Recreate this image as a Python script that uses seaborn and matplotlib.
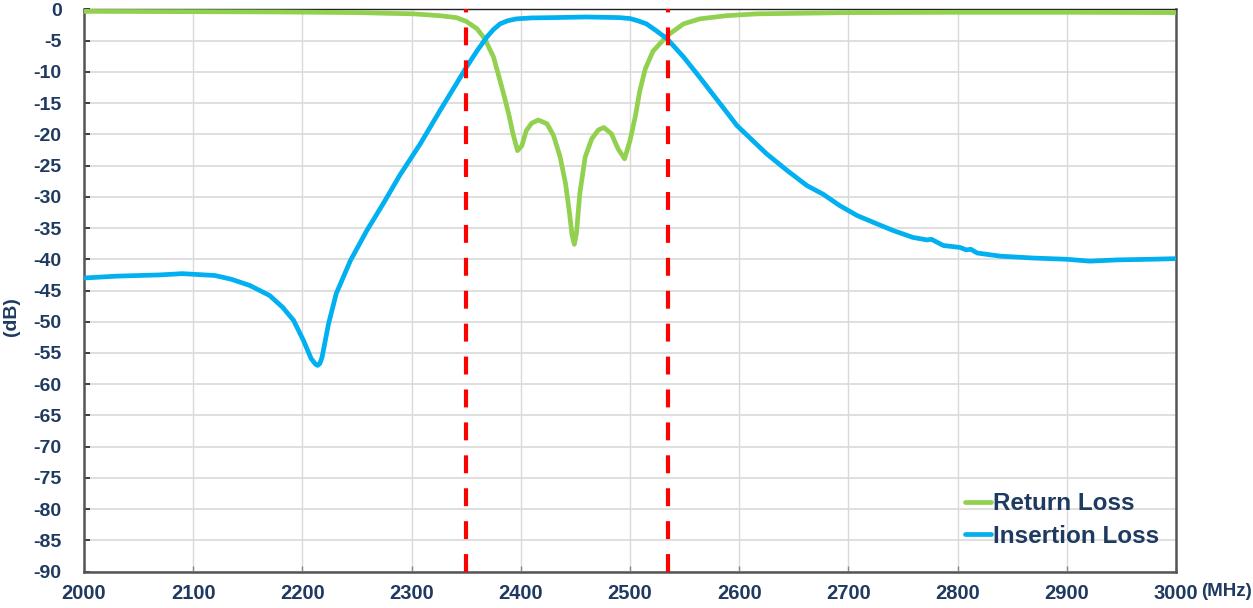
import matplotlib
matplotlib.use("Agg")
import matplotlib.pyplot as plt
import seaborn as sns
import pandas as pd

# Insertion loss (blue)
il_freq = [2000, 2010, 2030, 2050, 2070, 2090, 2100, 2120, 2135, 2152, 2170, 2182, 2192, 2201, 2208,
           2212, 2214, 2216, 2218, 2224, 2231, 2244, 2259, 2274, 2289, 2308, 2326, 2341, 2350, 2360,
           2369, 2375, 2381, 2388, 2396, 2410, 2430, 2460, 2490, 2500, 2507, 2515, 2524, 2534, 2549,
           2564, 2579, 2598, 2625, 2644, 2662, 2677, 2692, 2708, 2723, 2741, 2759, 2772, 2776, 2787,
           2802, 2808, 2812, 2818, 2839, 2869, 2900, 2921, 2946, 2976, 3000]
il_db = [-43.0, -42.9, -42.7, -42.6, -42.5, -42.3, -42.4, -42.6, -43.2, -44.2, -45.8, -47.7, -49.8, -53.0, -55.9,
         -56.8, -57.0, -56.7, -55.7, -50.3, -45.5, -40.2, -35.4, -31.1, -26.6, -21.5, -16.2, -11.9, -9.3, -6.6,
         -4.4, -3.2, -2.3, -1.8, -1.5, -1.35, -1.3, -1.2, -1.3, -1.45, -1.8, -2.3, -3.4, -4.7, -7.6,
         -10.9, -14.3, -18.6, -23.1, -25.8, -28.2, -29.6, -31.4, -33.0, -34.1, -35.4, -36.5, -36.9, -36.8, -37.8,
         -38.1, -38.5, -38.4, -39.0, -39.5, -39.8, -40.0, -40.3, -40.1, -40.0, -39.9]

# Return loss (green)
rl_freq = [2000, 2100, 2180, 2250, 2302, 2326, 2341, 2350, 2360, 2367, 2375, 2381, 2385, 2389, 2393,
           2397, 2401, 2405, 2410, 2416, 2424, 2430, 2436, 2441, 2444, 2447, 2449, 2451, 2454, 2459,
           2465, 2471, 2476, 2483, 2489, 2495, 2500, 2505, 2509, 2514, 2521, 2534, 2549, 2564, 2588,
           2616, 2700, 2800, 2900, 3000]
rl_db = [-0.3, -0.35, -0.4, -0.5, -0.7, -1.0, -1.3, -1.9, -3.1, -4.7, -7.6, -11.4, -14.0, -16.8, -20.0,
         -22.6, -21.8, -19.4, -18.2, -17.7, -18.3, -20.2, -23.6, -27.9, -31.8, -36.2, -37.6, -35.8, -29.5, -23.6,
         -20.7, -19.3, -18.9, -19.9, -22.3, -23.9, -21.0, -17.0, -13.0, -9.5, -6.7, -4.2, -2.3, -1.5, -1.0,
         -0.7, -0.5, -0.45, -0.45, -0.5]

band_edges = [2350, 2535]
x_ticks = [2000, 2100, 2200, 2300, 2400, 2500, 2600, 2700, 2800, 2900, 3000]
y_ticks = list(range(-90, 1, 5))

sns.set_theme(style="white")
plt.rcParams['font.family'] = ['Liberation Sans', 'DejaVu Sans']
navy = "#1f3a60"

fig = plt.figure(figsize=(12.53, 6.08), dpi=100)
ax = fig.add_axes([0.067, 0.06, 0.8716, 0.9244])

rl_df = pd.DataFrame({"f": rl_freq, "db": rl_db})
il_df = pd.DataFrame({"f": il_freq, "db": il_db})

for xv in band_edges:
    ax.axvline(xv, color="#ff0000", lw=3.0, dashes=(4.3, 3.6), zorder=4)

sns.lineplot(data=rl_df, x="f", y="db", ax=ax, color="#92d050", lw=3.4,
             label="Return Loss", zorder=3)
sns.lineplot(data=il_df, x="f", y="db", ax=ax, color="#00b0f0", lw=3.4,
             label="Insertion Loss", zorder=3)
for ln in ax.get_lines():
    ln.set_solid_joinstyle("round")
    ln.set_solid_capstyle("round")

ax.set_xlim(2000, 3000)
ax.set_ylim(-90, 0)
ax.set_xticks(x_ticks)
ax.set_yticks(y_ticks)
ax.set_xticklabels([str(v) for v in x_ticks], fontsize=14.5, fontweight="bold", color=navy)
ax.set_yticklabels([str(v) for v in y_ticks], fontsize=14, fontweight="bold", color=navy)
ax.tick_params(axis="y", direction="in", length=4, width=1.2, color="#222222", pad=16, left=True)
ax.tick_params(axis="x", direction="in", length=4, width=1.0, color="#888888", pad=9, bottom=True)

ax.grid(True, axis="y", color="#d9d9d9", lw=1.2)
ax.grid(True, axis="x", color="#d9d9d9", lw=1.0)
ax.set_axisbelow(True)

ax.set_xlabel("")
ax.set_ylabel("")
fig.text(0.009, 0.479, "(dB)", rotation=90, fontsize=14, fontweight="bold", color=navy,
         ha="center", va="center")

for s in ["left", "bottom", "right"]:
    ax.spines[s].set_color("#555555")
    ax.spines[s].set_linewidth(1.8)
ax.spines["top"].set_color("#222222")
ax.spines["top"].set_linewidth(1.0)

fig.text(0.9585, 0.0265, "(MHz)", fontsize=13.5, fontweight="bold", color=navy, ha="left", va="center")

leg = ax.legend(loc="center left", bbox_to_anchor=(0.770, 0.1447), bbox_transform=fig.transFigure,
                frameon=False, borderpad=0, borderaxespad=0,
                handlelength=1.07, handletextpad=0.08, labelspacing=0.4,
                prop={"family": "Liberation Sans", "weight": "bold", "size": 17.5})
for t in leg.get_texts():
    t.set_color(navy)
for h in leg.get_lines():
    h.set_linewidth(3.4)

fig.savefig("out.png", dpi=100, facecolor="white")
